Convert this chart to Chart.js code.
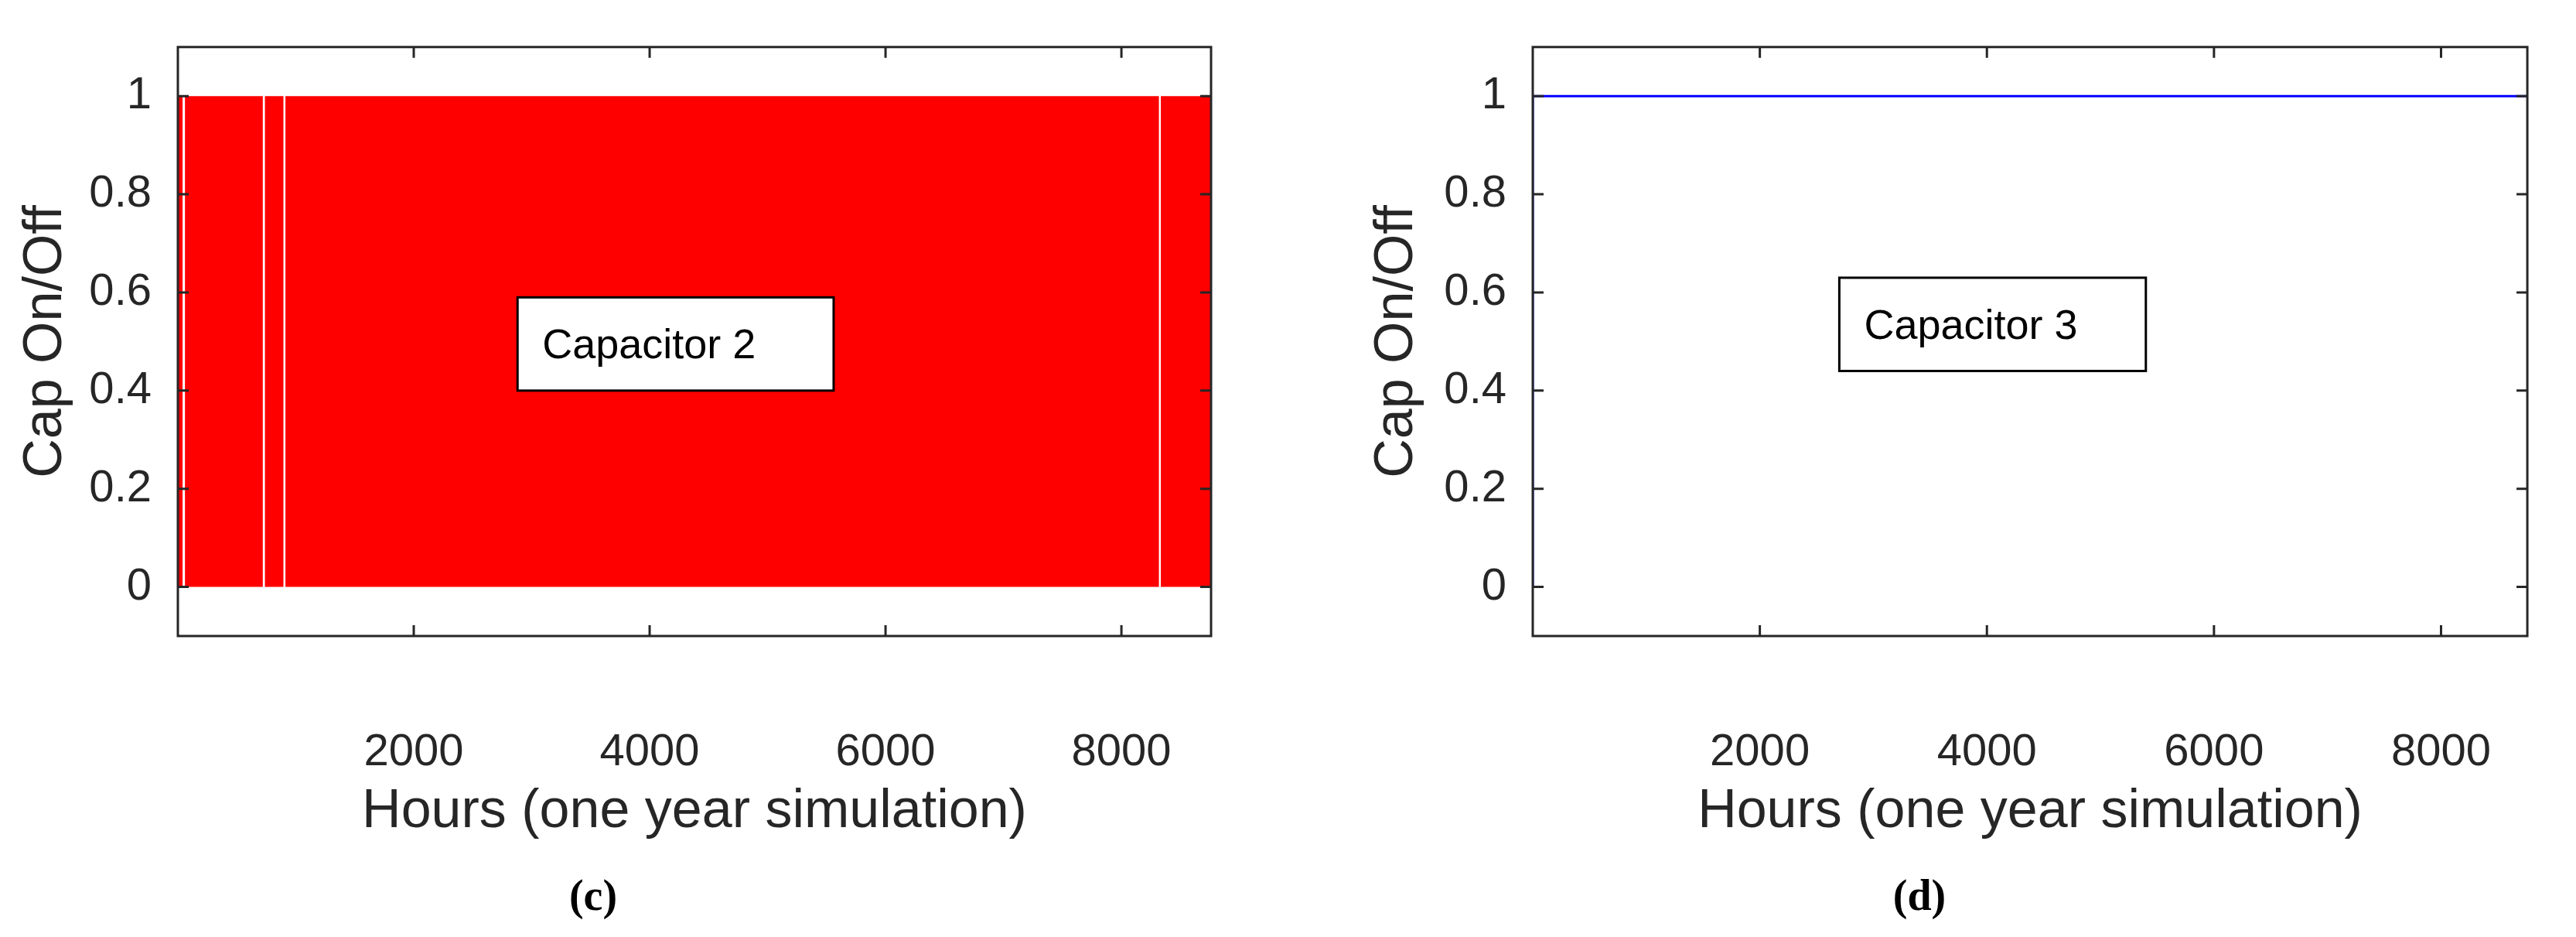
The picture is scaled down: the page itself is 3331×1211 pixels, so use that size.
<!DOCTYPE html>
<html>
<head>
<meta charset="utf-8">
<script src="https://cdn.jsdelivr.net/npm/chart.js@4/dist/chart.umd.min.js"></script>
<style>
  body { margin: 0; background: #fff; width: 3331px; height: 1211px; position: relative; overflow: hidden; }
  .box { position: absolute; top: 0; height: 1100px; }
  .cap { position: absolute; top: 1125px; font: bold 56px "Liberation Serif", serif; color: #000; transform: translateX(-50%); }
</style>
</head>
<body>
<div class="box" style="left:0;width:1665px"><canvas id="c2"></canvas></div>
<div class="box" style="left:1665px;width:1666px"><canvas id="c3"></canvas></div>
<div class="cap" style="left:767px">(c)</div>
<div class="cap" style="left:2482px">(d)</div>
<script>
// switching events (hour, state held until next event)
const cap2Hours = [0, 40, 60, 720, 738, 895, 912, 8318, 8334, 8760];
const cap2State = [1, 0, 1, 0, 1, 0, 1, 0, 1, 1];
const cap3Hours = [0, 8760];
const cap3State = [1, 1];
const xTicks = [2000, 4000, 6000, 8000];
const yTicks = [0, 0.2, 0.4, 0.6, 0.8, 1];

const ink = '#262626';
const font = 'Liberation Sans';

// turn switching events into a step outline starting from 0
function stepPoints(hours, state) {
  const pts = [{x: hours[0], y: 0}];
  hours.forEach((h, i) => {
    pts.push({x: h, y: i > 0 ? state[i - 1] : 0});
    pts.push({x: h, y: state[i]});
  });
  return pts;
}

// inward ticks + black frame + label box
const framePlugin = {
  id: 'frame',
  afterDraw(chart) {
    const {ctx, chartArea: a, scales: {x, y}} = chart;
    ctx.save();
    ctx.strokeStyle = ink;
    ctx.lineWidth = 3;
    ctx.beginPath();
    xTicks.forEach(v => {
      const px = x.getPixelForValue(v);
      ctx.moveTo(px, a.bottom); ctx.lineTo(px, a.bottom - 14);
      ctx.moveTo(px, a.top); ctx.lineTo(px, a.top + 14);
    });
    yTicks.forEach(v => {
      const py = y.getPixelForValue(v);
      ctx.moveTo(a.left, py); ctx.lineTo(a.left + 14, py);
      ctx.moveTo(a.right, py); ctx.lineTo(a.right - 14, py);
    });
    ctx.stroke();
    ctx.strokeRect(a.left, a.top, a.right - a.left, a.bottom - a.top);
    const o = chart.options.plugins.frame;
    const bx = x.getPixelForValue(o.x0), by = y.getPixelForValue(o.y1);
    const bw = x.getPixelForValue(o.x1) - bx, bh = y.getPixelForValue(o.y0) - by;
    ctx.fillStyle = '#fff';
    ctx.fillRect(bx, by, bw, bh);
    ctx.strokeStyle = '#000';
    ctx.strokeRect(bx, by, bw, bh);
    ctx.fillStyle = '#000';
    ctx.font = '54px ' + font;
    ctx.textBaseline = 'middle';
    ctx.fillText(o.text, bx + 32, by + bh / 2 + 4);
    ctx.restore();
  }
};

function makeChart(id, hours, state, color, filled, pad, yWidth, box) {
  return new Chart(document.getElementById(id), {
    type: 'line',
    data: {
      datasets: [{
        data: stepPoints(hours, state),
        borderColor: color,
        borderWidth: filled ? 0 : 3,
        backgroundColor: color,
        fill: filled ? 'origin' : false,
        pointRadius: 0,
        tension: 0
      }]
    },
    options: {
      responsive: true,
      maintainAspectRatio: false,
      animation: false,
      layout: {padding: pad},
      plugins: {legend: {display: false}, tooltip: {enabled: false}, frame: box},
      scales: {
        x: {
          type: 'linear', min: 0, max: 8760,
          afterBuildTicks: s => { s.ticks = xTicks.map(v => ({value: v})); },
          afterFit: s => { s.height = 278; },
          grid: {display: false},
          border: {display: false},
          ticks: {color: ink, font: {family: font, size: 58}, padding: 108, maxRotation: 0,
                  callback: v => String(v)},
          title: {display: true, text: 'Hours (one year simulation)', color: ink, font: {family: font, size: 70}, padding: {top: 0, bottom: 8}}
        },
        y: {
          min: -0.1, max: 1.1,
          afterBuildTicks: s => { s.ticks = yTicks.map(v => ({value: v})); },
          afterFit: s => { s.width = yWidth; },
          grid: {display: false},
          border: {display: false},
          ticks: {color: ink, font: {family: font, size: 58}, padding: 26,
                  callback: v => String(Math.round(v * 10) / 10)},
          title: {display: true, text: 'Cap On/Off', color: ink, font: {family: font, size: 70}, padding: 0}
        }
      }
    },
    plugins: [framePlugin]
  });
}

makeChart('c2', cap2Hours, cap2State, '#ff0000', true,
  {left: 18, top: 34, right: 99, bottom: 0}, 212,
  {x0: 2880, x1: 5560, y0: 0.4, y1: 0.59, text: 'Capacitor 2'});
makeChart('c3', cap3Hours, cap3State, '#0000ff', false,
  {left: 100, top: 34, right: 23, bottom: 0}, 217,
  {x0: 2700, x1: 5400, y0: 0.44, y1: 0.63, text: 'Capacitor 3'});
</script>
</body>
</html>
